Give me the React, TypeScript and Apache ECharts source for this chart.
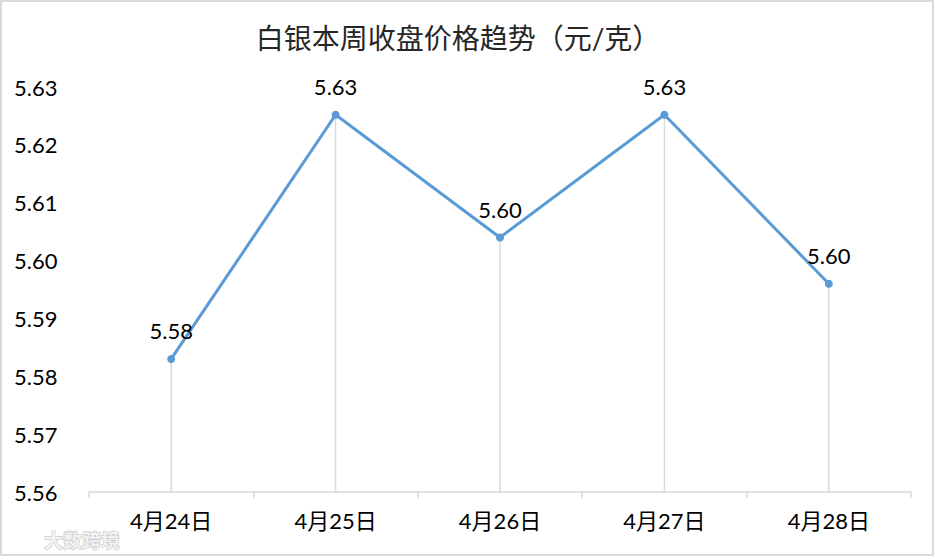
import React, { useEffect, useRef } from "react";
import * as echarts from "echarts";

const titleText = "白银本周收盘价格趋势（元/克）";
const categories = ["4月24日", "4月25日", "4月26日", "4月27日", "4月28日"];
const prices = [5.583, 5.6252, 5.604, 5.6252, 5.596];
const yMin = 5.56;
const yMax = 5.63;
const yStep = 0.01;
const watermark = "大数跨境";

const FONT = "Lato, 'Noto Sans CJK SC', sans-serif";

export default function App() {
  const ref = useRef<HTMLDivElement>(null);
  useEffect(() => {
    if (!ref.current) return;
    const chart = echarts.init(ref.current, undefined, { renderer: "svg" });
    chart.setOption({
      animation: false,
      backgroundColor: "#ffffff",
      textStyle: { fontFamily: FONT },
      graphic: [
        {
          type: "rect",
          shape: { x: 1, y: 1, width: 932, height: 554 },
          style: { fill: "none", stroke: "#d9d9d9", lineWidth: 2 },
          silent: true,
        },
        {
          type: "text",
          x: 458,
          y: 38,
          style: {
            text: titleText,
            fontSize: 28,
            fontFamily: FONT,
            fill: "#262626",
            textAlign: "center",
            textVerticalAlign: "middle",
          },
        },
        {
          type: "text",
          x: 44,
          y: 540,
          style: {
            text: watermark,
            fontSize: 19,
            fontWeight: "bold",
            fontFamily: FONT,
            fill: "#f2f2f2",
            stroke: "#bdbdbd",
            lineWidth: 1,
            textAlign: "left",
            textVerticalAlign: "middle",
          },
        },
      ],
      grid: { left: 89, right: 23, top: 87, bottom: 64, containLabel: false },
      xAxis: {
        type: "category",
        data: categories,
        boundaryGap: true,
        axisLine: { lineStyle: { color: "#d9d9d9", width: 1.5 } },
        axisTick: { show: true, length: 6, lineStyle: { color: "#d9d9d9", width: 1.5 } },
        axisLabel: { color: "#000000", fontSize: 22, margin: 17, fontFamily: FONT },
        splitLine: { show: false },
      },
      yAxis: {
        type: "value",
        min: yMin,
        max: yMax,
        interval: yStep,
        axisLine: { show: false },
        axisTick: { show: false },
        splitLine: { show: false },
        axisLabel: {
          color: "#000000",
          fontSize: 22,
          align: "left",
          margin: 75,
          fontFamily: FONT,
          formatter: (v: number) => v.toFixed(2),
        },
      },
      series: [
        {
          type: "bar",
          data: prices,
          barWidth: 1.5,
          itemStyle: { color: "#d9d9d9" },
          z: 1,
          silent: true,
        },
        {
          type: "line",
          data: prices,
          z: 3,
          symbol: "circle",
          symbolSize: 8,
          lineStyle: { color: "#5b9bd5", width: 3 },
          itemStyle: { color: "#5b9bd5" },
          label: {
            show: true,
            position: "top",
            distance: 13,
            color: "#000000",
            fontSize: 22,
            fontFamily: FONT,
            formatter: (p: any) => Number(p.value).toFixed(2),
          },
        },
      ],
    });
    return () => chart.dispose();
  }, []);
  return (
    <div
      ref={ref}
      style={{ position: "fixed", left: 0, top: 0, width: 934, height: 556 }}
    />
  );
}
